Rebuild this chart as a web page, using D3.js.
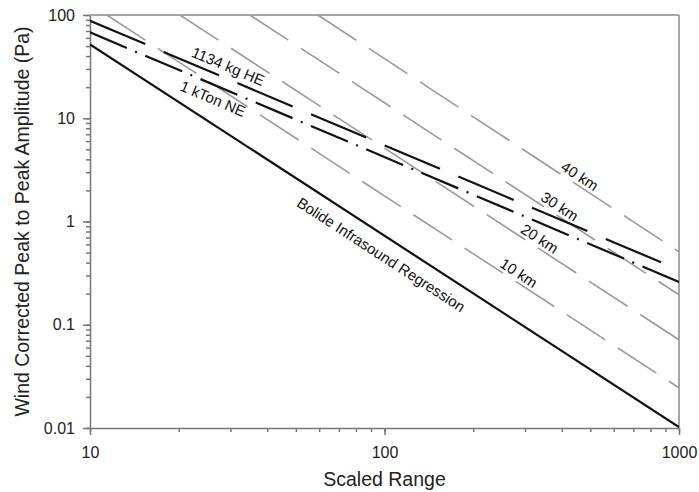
<html>

<head>
    <script src="https://d3js.org/d3.v7.min.js"></script>
    <style>
        body {
            margin: 0;
            background: #fff;
        }

        text {
            font-family: "Liberation Sans", Arial, sans-serif;
        }

        .axis path,
        .axis line {
            stroke: #777;
            stroke-width: 1.5;
        }

        .axis text {
            font-size: 16px;
            fill: #222;
        }
    </style>
</head>

<body>
    <svg width="699" height="492"></svg>

    <script>
        // tick labels
        const xTicks = [10, 100, 1000];
        const yTicks = [0.01, 0.1, 1, 10, 100];

        // [scaled range, peak-to-peak amplitude Pa]
        const bolide = [[10, 52], [1000, 0.0102]];
        const he1134kg = [[10, 88], [1000, 0.34]];
        const ne1kton = [[10, 68], [1000, 0.26]];
        const km10 = [[11.4, 100], [1000, 0.0245]];
        const km20 = [[20.2, 100], [1000, 0.0715]];
        const km30 = [[34.9, 100], [1000, 0.195]];
        const km40 = [[59.4, 100], [1000, 0.51]];

        // label text and scaled range where it sits
        const labelText = ["1134 kg HE", "1 kTon NE", "Bolide Infrasound Regression", "10 km", "20 km", "30 km", "40 km"];
        const labelLine = [he1134kg, ne1kton, bolide, km10, km20, km30, km40];
        const labelAt = [28.4, 27.2, 105, 275, 324, 379, 443];

        const svg = d3.select("svg");
        const width = +svg.attr("width");
        const height = +svg.attr("height");
        const margins = { top: 15, right: 20, bottom: 64, left: 90 };
        const chartWidth = width - margins.left - margins.right;
        const chartHeight = height - margins.top - margins.bottom;

        const xScale = d3.scaleLog().domain([10, 1000]).range([0, chartWidth]);
        const yScale = d3.scaleLog().domain([0.01, 100]).range([chartHeight, 0]);

        let chartArea = svg.append("g")
            .attr("transform", `translate(${margins.left},${margins.top})`);

        chartArea.append("clipPath").attr("id", "plotClip")
            .append("rect")
            .attr("width", chartWidth)
            .attr("height", chartHeight);

        // minor ticks
        chartArea.append("g")
            .attr("class", "axis")
            .attr("transform", `translate(0,${chartHeight})`)
            .call(d3.axisBottom(xScale).tickValues(xScale.ticks()).tickSize(4).tickFormat(""))
            .select(".domain").remove();
        chartArea.append("g")
            .attr("class", "axis")
            .call(d3.axisLeft(yScale).tickValues(yScale.ticks()).tickSize(4).tickFormat(""))
            .select(".domain").remove();

        // major axes
        chartArea.append("g")
            .attr("class", "axis")
            .attr("transform", `translate(0,${chartHeight})`)
            .call(d3.axisBottom(xScale).tickValues(xTicks).tickSize(7).tickSizeOuter(0)
                .tickPadding(12).tickFormat(d => d));
        chartArea.append("g")
            .attr("class", "axis")
            .call(d3.axisLeft(yScale).tickValues(yTicks).tickSize(7).tickSizeOuter(0)
                .tickPadding(8).tickFormat(d => d));

        // frame top and right
        chartArea.append("line")
            .attr("x1", 0).attr("x2", chartWidth).attr("y1", 0).attr("y2", 0)
            .attr("stroke", "#888").attr("stroke-width", 1.5);
        chartArea.append("line")
            .attr("x1", chartWidth).attr("x2", chartWidth).attr("y1", 0).attr("y2", chartHeight)
            .attr("stroke", "#888").attr("stroke-width", 1.5);

        const line = d3.line()
            .x(d => xScale(d[0]))
            .y(d => yScale(d[1]));

        const plot = chartArea.append("g").attr("clip-path", "url(#plotClip)");

        [km10, km20, km30, km40].forEach(s => {
            plot.append("path")
                .attr("d", line(s))
                .attr("fill", "none")
                .attr("stroke", "#9a9a9a")
                .attr("stroke-width", 1.6)
                .attr("stroke-dasharray", "46,15");
        });

        plot.append("path")
            .attr("d", line(bolide))
            .attr("fill", "none")
            .attr("stroke", "#111")
            .attr("stroke-width", 2.2);

        plot.append("path")
            .attr("d", line(he1134kg))
            .attr("fill", "none")
            .attr("stroke", "#111")
            .attr("stroke-width", 2.2)
            .attr("stroke-dasharray", "60,20");

        plot.append("path")
            .attr("d", line(ne1kton))
            .attr("fill", "none")
            .attr("stroke", "#111")
            .attr("stroke-width", 2.2)
            .attr("stroke-dasharray", "40,9,2,9");

        // labels along lines
        const labelDy = [-6.5, 18.5, 23, -3.5, -3.5, -3.5, -3.5];
        labelText.forEach((t, i) => {
            const s = labelLine[i];
            const lx0 = Math.log10(s[0][0]), lx1 = Math.log10(s[1][0]);
            const ly0 = Math.log10(s[0][1]), ly1 = Math.log10(s[1][1]);
            const f = (Math.log10(labelAt[i]) - lx0) / (lx1 - lx0);
            const yv = Math.pow(10, ly0 + f * (ly1 - ly0));
            const angle = Math.atan2(yScale(s[1][1]) - yScale(s[0][1]),
                xScale(s[1][0]) - xScale(s[0][0])) * 180 / Math.PI;
            chartArea.append("text")
                .attr("transform", `translate(${xScale(labelAt[i])},${yScale(yv)}) rotate(${angle})`)
                .attr("y", labelDy[i])
                .attr("text-anchor", "middle")
                .attr("font-size", "15px")
                .attr("fill", "#111")
                .text(t);
        });

        // axis titles
        svg.append("text")
            .attr("x", margins.left + chartWidth / 2)
            .attr("y", 486)
            .attr("text-anchor", "middle")
            .attr("font-size", "19.5px")
            .attr("fill", "#222")
            .text("Scaled Range");

        svg.append("text")
            .attr("transform", `translate(29,${margins.top + chartHeight / 2}) rotate(-90)`)
            .attr("text-anchor", "middle")
            .attr("font-size", "19.5px")
            .attr("fill", "#222")
            .text("Wind Corrected Peak to Peak Amplitude (Pa)");
    </script>
</body>

</html>
